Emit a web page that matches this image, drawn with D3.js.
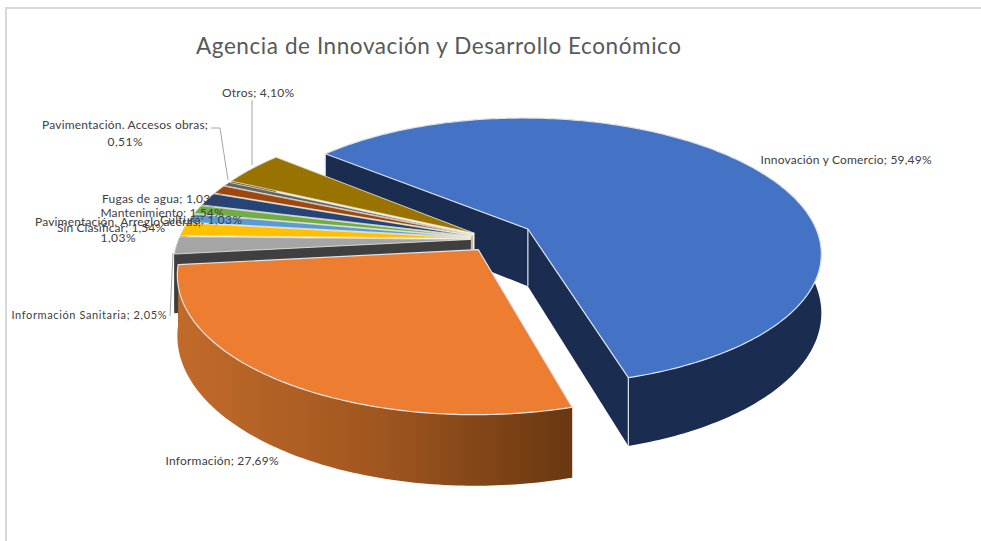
<!DOCTYPE html>
<html><head><meta charset="utf-8">
<script src="https://cdn.jsdelivr.net/npm/d3@7"></script>
<style>html,body{margin:0;padding:0;background:#fff}svg{display:block}text{font-family:Lato,"Open Sans",sans-serif}</style>
</head><body><svg id="c" width="981" height="541"></svg>
<script>
const categories = ["Innovación y Comercio","Información","Información Sanitaria","Sin Clasificar","Pavimentación. Arreglo aceras","Cultura","Mantenimiento","Fugas de agua","Pavimentación. Accesos obras","Otros"];
const shares = [59.49,27.69,2.05,1.54,1.03,1.03,1.54,1.03,0.51,4.10];
const shareLabels = ["59,49%","27,69%","2,05%","1,54%","1,03%","1,03%","1,54%","1,03%","0,51%","4,10%"];
const palette = ["#4472C4","#ED7D31","#A5A5A5","#FFC000","#5B9BD5","#70AD47","#264478","#9E480E","#636363","#997300"];
const wallColors = ["#1a2c50","#6b3a14","#3f3f3f","#7f6000","#2e5f8a","#3f6a27","#14264a","#5a2908","#3a3a3a","#5a4400"];
const explosion = [0.14,0.095,0.08,0.08,0.08,0.08,0.08,0.08,0.08,0.08];

const svg = d3.select("#c");
const CX=494, CY=239, RX=292, RY=133, K=0.17, DEPTH=58;
const START=310*Math.PI/180;
const xs=d3.scaleLinear([-1,1],[CX-RX,CX+RX]), ys=d3.scaleLinear([-1,1],[CY-RY,CY+RY]);

const pie=d3.pie().sort(null).startAngle(START).endAngle(START+2*Math.PI)(shares);
const line=d3.line();
function proj(U,V,low){const s=1/(1-K*V);return [xs(U*s),ys(V*s)+(low?DEPTH*s:0)];}

// frame
svg.append("rect").attr("x",6).attr("y",8).attr("width",990).attr("height",560).attr("fill","none").attr("stroke","#d9d9d9").attr("stroke-width",2);

// wall gradients
const defs=svg.append("defs");
function grad(id,x1,x2,stops){const g=defs.append("linearGradient").attr("id",id).attr("gradientUnits","userSpaceOnUse").attr("x1",x1).attr("x2",x2).attr("y1",0).attr("y2",0);
 stops.forEach(([o,c])=>g.append("stop").attr("offset",o).attr("stop-color",c));}
grad("wall1",185,575,[[0,"#c06a2a"],[0.5,"#a0561f"],[1,"#683711"]]);

function slice(i){
 const d=pie[i], e=explosion[i], mid=(d.startAngle+d.endAngle)/2;
 const ox=e*Math.sin(mid), oy=-e*Math.cos(mid);
 const at=(t,low)=>proj(ox+Math.sin(t),oy-Math.cos(t),low);
 const apex=low=>proj(ox,oy,low);
 const n=Math.max(4,Math.ceil((d.endAngle-d.startAngle)*60));
 const ts=d3.range(n+1).map(j=>d.startAngle+(d.endAngle-d.startAngle)*j/n);
 const g=svg.append("g");
 const wall=i===1?"url(#wall1)":wallColors[i];
 const edge=i<2?"#dfe3ea":"#efece0";
 // radial walls: the narrow slices show only a pale gap between them
 [d.endAngle,d.startAngle].forEach(t=>{
   const pale=i>=3&&t===d.startAngle;
   g.append("path").attr("d",line([apex(false),at(t,false),at(t,true),apex(true)])+"Z").attr("fill",pale?"#f6f4ea":wallColors[i]);
 });
 // outer wall
 const wpts=ts.map(t=>at(t,false)).concat(ts.slice().reverse().map(t=>at(t,true)));
 g.append("path").attr("d",line(wpts)+"Z").attr("fill",wall);
 // vertical edges
 if(i===0){
   [d.startAngle,d.endAngle].forEach(t=>g.append("path").attr("d",line([at(t,false),at(t,true)])).attr("stroke",edge).attr("stroke-width",1.2).attr("fill","none"));
   g.append("path").attr("d",line([apex(false),apex(true)])).attr("stroke",edge).attr("stroke-width",1.2).attr("fill","none");
 }
 // top face
 const top=[apex(false)].concat(ts.map(t=>at(t,false)));
 g.append("path").attr("d",line(top)+"Z").attr("fill",palette[i]).attr("stroke",edge).attr("stroke-width",i<2?1.2:0.8).attr("stroke-linejoin","round");
}
// painter's order: blue, then the small ones back to front, orange last
[0,9,8,7,6,5,4,3,2,1].forEach(slice);

// leaders
const leaders=[[[252,100],[252,165]],[[211,128],[220,128],[228,180]],[[170,316],[173,253]]];
leaders.forEach(p=>svg.append("path").attr("d",line(p)).attr("fill","none").attr("stroke","#a6a6a6").attr("stroke-width",1));

// title
svg.append("text").attr("x",196).attr("y",54).attr("font-size",22.5).attr("fill","#595959").attr("textLength",485).attr("lengthAdjust","spacing").text("Agencia de Innovación y Desarrollo Económico");

// labels
const labelAt=[
 {x:846,y:164,w:171,lines:1},
 {x:222,y:465,w:113,lines:1},
 {x:89,y:319,w:155,size:11,lines:1},
 {x:111,y:232,w:108,lines:1},
 {x:118,y:226,w:166,lines:2,dy:16,w2:35},
 {x:201,y:224,w:82,lines:1},
 {x:162,y:217,w:123,lines:1},
 {x:161,y:203,w:118,lines:1},
 {x:125,y:129,w:166,lines:2,dy:17,w2:35},
 {x:258,y:97,w:72,lines:1}];
categories.forEach((c,i)=>{
 const l=labelAt[i];
 const put=(s,y,w)=>svg.append("text").attr("x",l.x).attr("y",y).attr("text-anchor","middle").attr("font-size",l.size||12).attr("fill","#404040").attr("textLength",w).attr("lengthAdjust","spacing").text(s);
 if(l.lines===1) put(`${c}; ${shareLabels[i]}`,l.y,l.w);
 else {put(`${c};`,l.y,l.w);put(shareLabels[i],l.y+l.dy,l.w2);}
});
</script></body></html>
